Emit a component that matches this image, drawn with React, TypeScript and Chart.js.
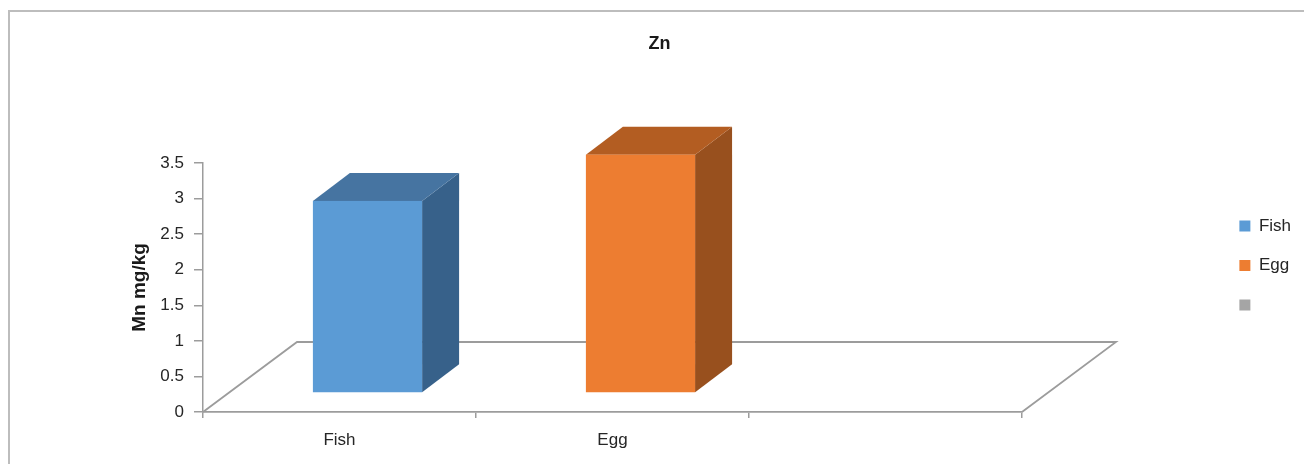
import React, { useEffect, useRef } from 'react';
import { Chart, registerables } from 'chart.js';

Chart.register(...registerables);

// ---- data ----
const categories: string[] = ['Fish', 'Egg', ''];
const values: (number | null)[] = [2.7, 3.35, null];
const yTickValues: number[] = [0, 0.5, 1, 1.5, 2, 2.5, 3, 3.5];
const chartTitle = 'Zn';
const yAxisTitle = 'Mn mg/kg';

// ---- styles ----
const frontColors = ['#5B9BD5', '#ED7D31', '#A5A5A5'];
const topColors = ['#4674A1', '#B35D22', '#7C7C7C'];
const sideColors = ['#37618A', '#98501E', '#6B6B6B'];
const FONT = '"Liberation Sans", Arial, sans-serif';
const GRAY = '#9C9C9C';
const TEXT = '#262626';
const FLOOR_DX = 94;
const FLOOR_DY = -70;
const FACE_DX = 28;
const FACE_DY = -19;
const DEPTH_DX = 37;
const DEPTH_DY = -28;

const bar3dPlugin = {
  id: 'bar3d',
  beforeDraw(chart: any) {
    const { ctx, width, height } = chart;
    ctx.save();
    ctx.fillStyle = '#ffffff';
    ctx.fillRect(0, 0, width, height);
    ctx.fillStyle = '#BDBDBD';
    ctx.fillRect(8, 10, 2, height - 10);
    ctx.fillRect(8, 10, width - 8, 2);
    ctx.restore();
  },
  beforeDatasetsDraw(chart: any) {
    const { ctx } = chart;
    const xs = chart.scales.x;
    const ys = chart.scales.y;
    const y0 = ys.getPixelForValue(0);
    ctx.save();
    ctx.strokeStyle = GRAY;
    ctx.lineWidth = 1.8;
    ctx.beginPath();
    ctx.moveTo(xs.left, y0);
    ctx.lineTo(xs.left + FLOOR_DX, y0 + FLOOR_DY);
    ctx.lineTo(xs.right + FLOOR_DX, y0 + FLOOR_DY);
    ctx.lineTo(xs.right, y0);
    ctx.stroke();
    ctx.restore();
  },
  afterDatasetsDraw(chart: any) {
    const { ctx } = chart;
    const meta = chart.getDatasetMeta(0);
    meta.data.forEach((el: any, i: number) => {
      if (values[i] == null) return;
      const { x, y, base, width } = el.getProps(['x', 'y', 'base', 'width'], true);
      const x0 = x - width / 2 + FACE_DX;
      const x1 = x + width / 2 + FACE_DX;
      const yt = y + FACE_DY;
      const yb = base + FACE_DY;
      ctx.save();
      // side
      ctx.fillStyle = sideColors[i];
      ctx.beginPath();
      ctx.moveTo(x1, yt);
      ctx.lineTo(x1 + DEPTH_DX, yt + DEPTH_DY);
      ctx.lineTo(x1 + DEPTH_DX, yb + DEPTH_DY);
      ctx.lineTo(x1, yb);
      ctx.closePath();
      ctx.fill();
      // top
      ctx.fillStyle = topColors[i];
      ctx.beginPath();
      ctx.moveTo(x0, yt);
      ctx.lineTo(x0 + DEPTH_DX, yt + DEPTH_DY);
      ctx.lineTo(x1 + DEPTH_DX, yt + DEPTH_DY);
      ctx.lineTo(x1, yt);
      ctx.closePath();
      ctx.fill();
      // front
      ctx.fillStyle = frontColors[i];
      ctx.fillRect(x0, yt, x1 - x0, yb - yt);
      ctx.restore();
    });
  },
};

export default function App() {
  const ref = useRef<HTMLCanvasElement>(null);
  useEffect(() => {
    if (!ref.current) return;
    const chart = new Chart(ref.current, {
      type: 'bar',
      data: {
        labels: categories,
        datasets: [
          {
            label: chartTitle,
            data: values as any,
            backgroundColor: 'rgba(0,0,0,0)',
            borderWidth: 0,
            barPercentage: 0.4,
            categoryPercentage: 1,
          },
        ],
      },
      options: {
        responsive: false,
        animation: false,
        layout: { padding: { left: 18, right: 3, top: 0, bottom: 0 } },
        plugins: {
          title: {
            display: true,
            text: chartTitle,
            color: '#1a1a1a',
            font: { family: FONT, size: 18, weight: 'bold', lineHeight: 1.2 },
            padding: { top: 33.2, bottom: 12 },
          },
          legend: {
            position: 'right',
            align: 'center',
            onClick: () => {},
            title: {
              display: true,
              text: '',
              color: TEXT,
              font: { family: FONT, size: 10, lineHeight: 1 },
              padding: { top: 57, bottom: 0 },
            },
            labels: {
              boxWidth: 11,
              boxHeight: 11,
              padding: 22.5,
              color: TEXT,
              font: { family: FONT, size: 17, lineHeight: 1.2 },
              generateLabels: () =>
                categories.map((c, i) => ({
                  text: c,
                  fillStyle: frontColors[i],
                  strokeStyle: frontColors[i],
                  fontColor: TEXT,
                  lineWidth: 0,
                  hidden: false,
                  index: i,
                  datasetIndex: 0,
                })),
            },
          },
          tooltip: { enabled: false },
        },
        scales: {
          x: {
            type: 'category',
            position: 'bottom',
            grid: { display: true, drawOnChartArea: false, drawTicks: true, tickLength: 6, color: GRAY, lineWidth: 1.5, offset: true },
            border: { display: true, color: GRAY, width: 1.8 },
            ticks: { color: TEXT, font: { family: FONT, size: 17 }, padding: 12, maxRotation: 0 },
            afterFit: (s: any) => { s.height = 52; },
          },
          y: {
            type: 'linear',
            position: 'left',
            min: 0,
            max: 3.5,
            afterBuildTicks: (s: any) => { s.ticks = yTickValues.map((v) => ({ value: v })); },
            grid: { display: true, drawOnChartArea: false, drawTicks: true, tickLength: 9, color: GRAY, lineWidth: 1.5 },
            border: { display: true, color: GRAY, width: 1.5 },
            ticks: { color: TEXT, font: { family: FONT, size: 17 }, padding: 10, callback: (v: any) => String(v) },
            title: {
              display: true,
              text: yAxisTitle,
              color: '#1a1a1a',
              font: { family: FONT, size: 19, weight: 'bold', lineHeight: 1.2 },
              padding: { top: 110, bottom: 0 },
            },
            afterFit: (s: any) => { s.width = 185; },
          },
          spacerRight: {
            type: 'linear',
            position: 'right',
            display: true,
            grid: { display: false },
            border: { display: false },
            ticks: { display: false },
            afterFit: (s: any) => { s.width = 194.9; },
          },
          spacerTop: {
            type: 'linear',
            position: 'top',
            display: true,
            grid: { display: false },
            border: { display: false },
            ticks: { display: false },
            afterFit: (s: any) => { s.height = 96.2; },
          },
        } as any,
      },
      plugins: [bar3dPlugin],
    });
    return () => chart.destroy();
  }, []);
  return (
    <div style={{ position: 'absolute', left: 0, top: 0, width: 1304, height: 464 }}>
      <canvas ref={ref} width={1304} height={464} style={{ display: 'block' }} />
    </div>
  );
}
